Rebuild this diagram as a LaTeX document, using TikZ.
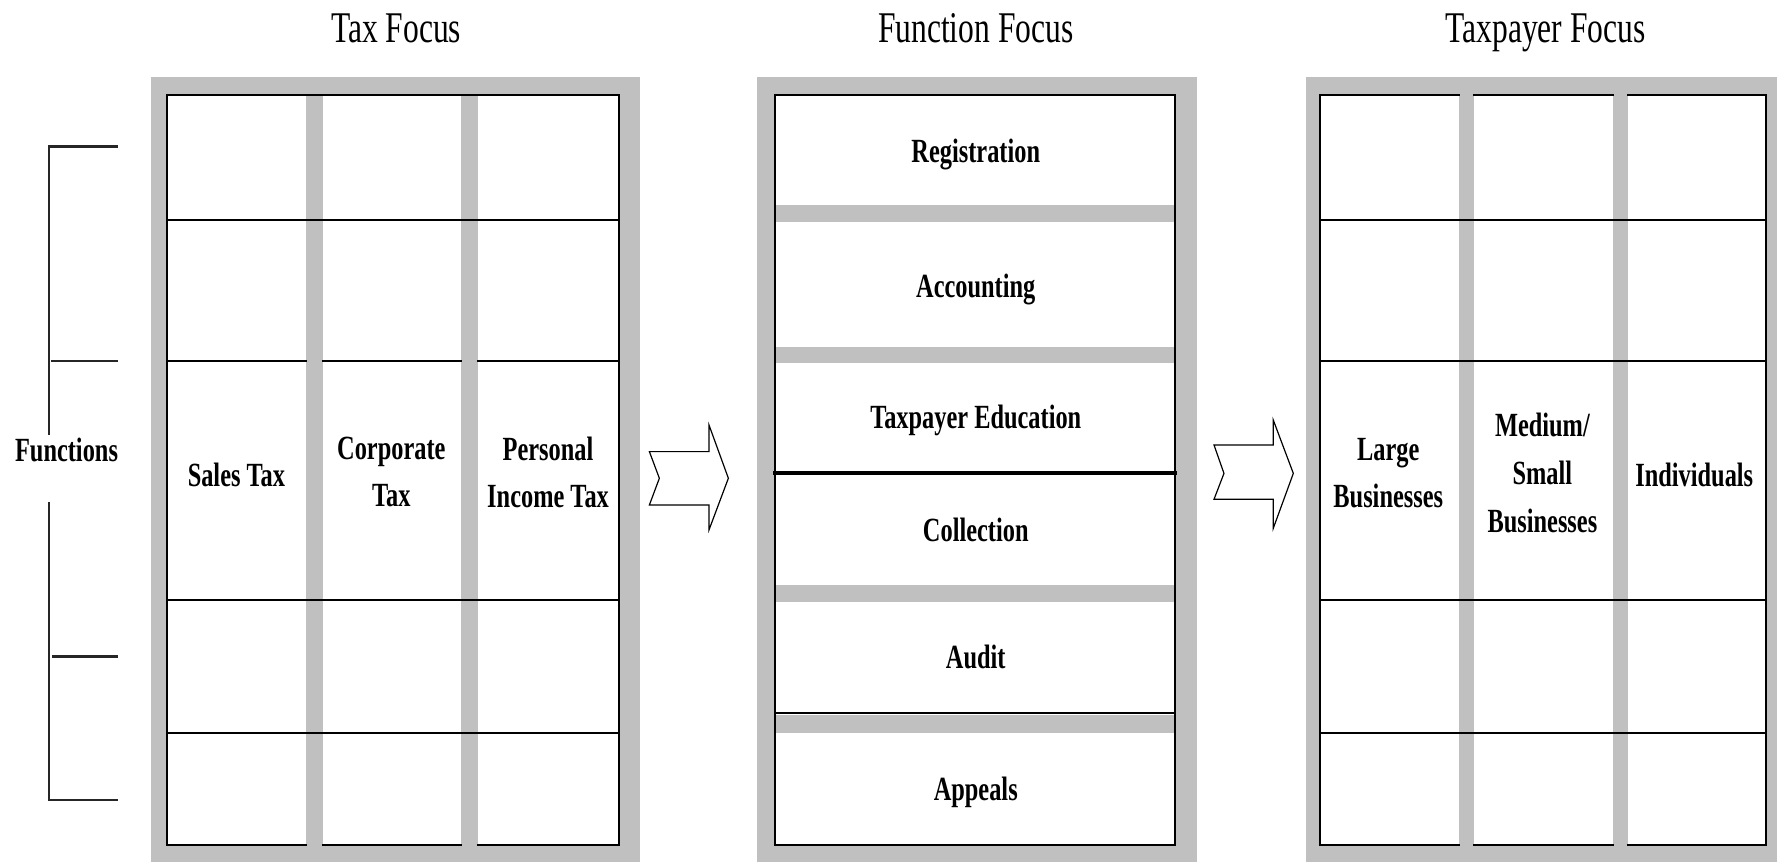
\documentclass[tikz,border=0pt]{standalone}
\usepackage{fontspec}
\setmainfont{Liberation Serif}[FakeStretch=0.72]
\usepackage{xcolor}

\definecolor{framegray}{RGB}{192,192,192}

\begin{document}
\begin{tikzpicture}[x=0.02cm, y=-0.02cm,
	title/.style={font=\fontsize{22}{26}\selectfont, inner sep=0pt, anchor=base},
	cell/.style={font=\bfseries\fontsize{17}{23.9}\selectfont, align=center, inner sep=0pt},
	grid/.style={line width=1pt, black, line cap=rect},
	shade/.style={fill=framegray},
	bracket/.style={line width=1.2pt, black!85},
	bigarrow/.style={line width=0.6pt, fill=white, line join=miter}]

			\useasboundingbox (0,0) rectangle (1568,761);

			% headings
			\node[title] (taxfocus) at (349.6,37.6) {Tax Focus};
			\node[title] (funcfocus) at (861,37.6) {Function Focus};
			\node[title] (payerfocus) at (1363.8,37.6) {Taxpayer Focus};

			% tax focus
			\fill[shade] (133,67.6) rectangle (565,761);
			\fill[white] (147,84) rectangle (546,746);
			\fill[shade] (270,84) rectangle (285,746);
			\fill[shade] (407,84) rectangle (422,746);
			\draw[grid] (147,84) -- (546,84);
			\draw[grid] (147,84) -- (147,746);
			\draw[grid] (546,84) -- (546,746);
			\draw[grid] (147,194) -- (546,194);
			\draw[grid] (147,318.3) -- (270,318.3);
			\draw[grid] (285,318.3) -- (407,318.3);
			\draw[grid] (422,318.3) -- (546,318.3);
			\draw[grid] (147,529.4) -- (546,529.4);
			\draw[grid] (147,646.5) -- (546,646.5);
			\draw[grid] (147,746) -- (270,746);
			\draw[grid] (285,746) -- (407,746);
			\draw[grid] (422,746) -- (546,746);

			\node[cell, anchor=base] (sales) at (208.6,429.4) {Sales Tax};
			\node[cell] (corporate) at (345.3,416.5) {Corporate\\Tax};
			\node[cell] (personal) at (483.6,416.8) {Personal\\Income Tax};

			% functions bracket
			\draw[bracket] (104,129.4) -- (43,129.4) -- (43,384);
			\draw[bracket] (43,443) -- (43,705.9) -- (104,705.9);
			\draw[bracket] (45,318.3) -- (104,318.3);
			\draw[bracket] (46,579.4) -- (104,579.4);
			\node[cell, anchor=base] (functions) at (58.7,407.4) {Functions};

			% function focus
			\fill[shade] (667.6,67.6) rectangle (1056,761);
			\fill[white] (684,84) rectangle (1037,746);
			\fill[shade] (684,181) rectangle (1037,195.6);
			\fill[shade] (684,306) rectangle (1037,320);
			\fill[shade] (684,516) rectangle (1037,531);
			\fill[shade] (684,631) rectangle (1037,647);
			\draw[grid] (684,84) rectangle (1037,746);
			\draw[grid, line width=2pt] (684,417.4) -- (1037,417.4);
			\draw[grid] (684,628.8) -- (1037,628.8);

			\node[cell, anchor=base] (registration) at (861,143.2) {Registration};
			\node[cell, anchor=base] (accounting) at (861,262.6) {Accounting};
			\node[cell, anchor=base] (education) at (861,378) {Taxpayer Education};
			\node[cell, anchor=base] (collection) at (861,478) {Collection};
			\node[cell, anchor=base] (audit) at (861,589.7) {Audit};
			\node[cell, anchor=base] (appeals) at (861,706) {Appeals};

			% taxpayer focus
			\fill[shade] (1152,67.6) rectangle (1568,761);
			\fill[white] (1164.5,84) rectangle (1558.5,746);
			\fill[shade] (1287.5,84) rectangle (1300.6,746);
			\fill[shade] (1423,84) rectangle (1436.5,746);
			\draw[grid] (1164.5,84) -- (1164.5,746);
			\draw[grid] (1558.5,84) -- (1558.5,746);
			\draw[grid] (1164.5,84) -- (1287.5,84);
			\draw[grid] (1300.6,84) -- (1423,84);
			\draw[grid] (1436.5,84) -- (1558.5,84);
			\draw[grid] (1164.5,194) -- (1558.5,194);
			\draw[grid] (1164.5,318.3) -- (1558.5,318.3);
			\draw[grid] (1164.5,529.4) -- (1558.5,529.4);
			\draw[grid] (1164.5,646.5) -- (1558.5,646.5);
			\draw[grid] (1164.5,746) -- (1287.5,746);
			\draw[grid] (1300.6,746) -- (1423,746);
			\draw[grid] (1436.5,746) -- (1558.5,746);

			\node[cell] (large) at (1225,417.6) {Large\\Businesses};
			\node[cell] (medium) at (1361,417.3) {Medium/\\Small\\Businesses};
			\node[cell, anchor=base] (individuals) at (1495,429.4) {Individuals};

			% block arrows
			\draw[bigarrow] (573,398.5) -- (625.6,398.5) -- (625.6,375) -- (642.7,422) -- (625.6,467.6)
				-- (625.6,445.6) -- (573,445.6) -- (581.8,422) -- cycle;
			\draw[bigarrow] (1071.2,392.6) -- (1123.5,392.6) -- (1123.5,370.6) -- (1141.2,417.7) -- (1123.5,466.2)
				-- (1123.5,440.6) -- (1071.2,440.6) -- (1080,417.7) -- cycle;

		\end{tikzpicture}
\end{document}
